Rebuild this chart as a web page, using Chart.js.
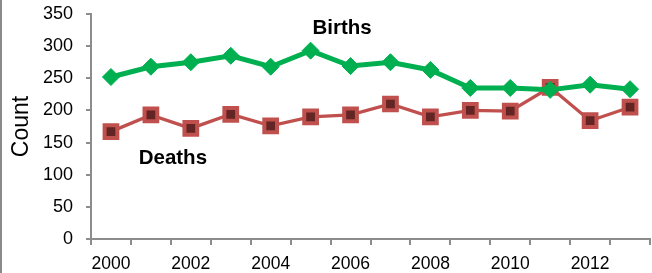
<!DOCTYPE html>
<html>
<head>
<meta charset="utf-8">
<script src="https://cdn.jsdelivr.net/npm/chart.js@4/dist/chart.umd.min.js"></script>
<style>
  html, body { margin: 0; padding: 0; background: #fff; }
  #wrap { width: 652px; height: 273px; position: relative; }
</style>
</head>
<body>
<div id="wrap"><canvas id="c" width="652" height="273"></canvas></div>
<script>
const years = ['2000','2001','2002','2003','2004','2005','2006','2007','2008','2009','2010','2011','2012','2013'];
const births = [252, 268, 275, 285, 268, 293, 269, 275, 263, 235, 235, 232, 240, 233];
const deaths = [167, 193, 172, 194, 176, 190, 193, 210, 190, 200, 199, 236, 184, 205];
const yTicks = [0, 50, 100, 150, 200, 250, 300, 350];

const FONT = "'Liberation Sans', Arial, sans-serif";
const AXIS = '#8c8c8c';

const seriesLabels = {
  id: 'seriesLabels',
  afterDatasetsDraw(chart) {
    const ctx = chart.ctx, xs = chart.scales.x, ys = chart.scales.y;
    ctx.save();
    ctx.font = 'bold 20.5px ' + FONT;
    ctx.fillStyle = '#000';
    ctx.textAlign = 'center';
    ctx.textBaseline = 'middle';
    ctx.fillText('Births', xs.getPixelForValue(5.79), ys.getPixelForValue(328));
    ctx.fillText('Deaths', xs.getPixelForValue(1.55), ys.getPixelForValue(125));
    ctx.restore();
  },
  beforeDraw(chart) {
    const ctx = chart.ctx;
    ctx.save();
    ctx.fillStyle = '#fff';
    ctx.fillRect(0, 0, chart.width, chart.height);
    ctx.strokeStyle = '#8a8a8a';
    ctx.lineWidth = 2;
    ctx.beginPath();
    ctx.moveTo(1, 0);
    ctx.lineTo(1, chart.height);
    ctx.stroke();
    ctx.restore();
  }
};

new Chart(document.getElementById('c'), {
  type: 'line',
  data: {
    labels: years,
    datasets: [
      {
        label: 'Births',
        data: births,
        borderColor: '#00B050',
        backgroundColor: '#00B050',
        borderWidth: 5,
        pointStyle: 'rectRot',
        pointRadius: 8.5,
        pointBorderWidth: 1,
        pointBackgroundColor: '#00B050',
        pointBorderColor: '#00B050',
        tension: 0
      },
      {
        label: 'Deaths',
        data: deaths,
        borderColor: '#C0504D',
        backgroundColor: '#632523',
        borderWidth: 3.3,
        pointStyle: 'rect',
        pointRadius: 9,
        pointBorderWidth: 4,
        pointBackgroundColor: '#632523',
        pointBorderColor: '#C0504D',
        tension: 0
      }
    ]
  },
  options: {
    responsive: false,
    animation: false,
    devicePixelRatio: 1,
    layout: { autoPadding: false, padding: { left: 0, top: 14, right: 2, bottom: 0 } },
    plugins: { legend: { display: false }, tooltip: { enabled: false } },
    scales: {
      x: {
        type: 'category',
        offset: true,
        grid: { offset: true, drawOnChartArea: false, drawTicks: true, tickLength: 6, color: AXIS, lineWidth: 2 },
        border: { display: true, color: AXIS, width: 2 },
        ticks: {
          autoSkip: false,
          maxRotation: 0,
          padding: 9,
          color: '#000',
          font: { family: FONT, size: 17.5 },
          callback: function(v, i) { return i % 2 === 0 ? years[i] : ''; }
        },
        afterFit(scale) { scale.height = 34; scale.paddingLeft = 0; scale.paddingRight = 0; }
      },
      y: {
        min: 0,
        max: 350,
        afterBuildTicks(scale) { scale.ticks = yTicks.map(v => ({ value: v })); },
        grid: { drawOnChartArea: false, drawTicks: true, tickLength: 5, color: AXIS, lineWidth: 2 },
        border: { display: true, color: AXIS, width: 2 },
        ticks: {
          padding: 13,
          color: '#000',
          font: { family: FONT, size: 18 }
        },
        title: {
          display: true,
          text: 'Count',
          color: '#000',
          font: { family: FONT, size: 23 },
          padding: { top: 8, bottom: 0 }
        },
        afterFit(scale) { scale.width = 91; scale.paddingTop = 0; scale.paddingBottom = 0; }
      }
    }
  },
  plugins: [seriesLabels]
});
</script>
</body>
</html>
